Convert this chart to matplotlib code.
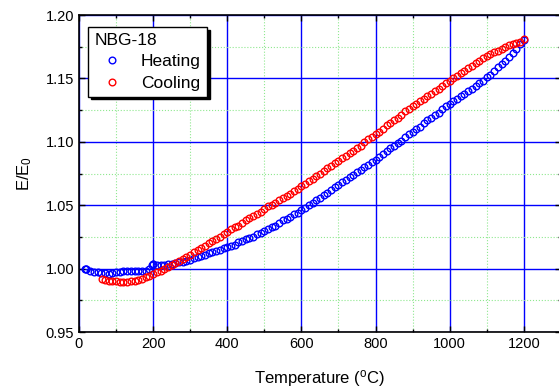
import matplotlib
matplotlib.use("Agg")
import matplotlib.pyplot as plt
from matplotlib.ticker import MultipleLocator, FormatStrFormatter

plt.rcParams['font.family'] = ['Liberation Sans', 'DejaVu Sans']
plt.rcParams['mathtext.fontset'] = 'custom'
plt.rcParams['mathtext.rm'] = 'Liberation Sans'

# heating run (temperature in C, E/E0)
heat_t = [15, 18, 20, 30, 40, 50, 60, 70, 80, 90, 100, 110, 120, 130, 140, 150,
          160, 170, 180, 190, 197, 199, 201, 210, 220, 230, 240, 250, 260, 270,
          280, 290, 300, 310, 320, 330, 340, 350, 360, 370, 380, 390, 400, 410,
          420, 430, 440, 450, 460, 470, 480, 490, 500, 510, 520, 530, 540, 550,
          560, 570, 580, 590, 600, 610, 620, 630, 640, 650, 660, 670, 680, 690,
          700, 710, 720, 730, 740, 750, 760, 770, 780, 790, 800, 810, 820, 830,
          840, 850, 860, 870, 880, 890, 900, 910, 920, 930, 940, 950, 960, 970,
          980, 990, 1000, 1010, 1020, 1030, 1040, 1050, 1060, 1070, 1080, 1090,
          1100, 1110, 1120, 1130, 1140, 1150, 1160, 1170, 1180, 1190, 1200]
heat_e = [1.000, 1.000, 0.9995, 0.998, 0.9975, 0.997, 0.9965, 0.9965, 0.996,
          0.9965, 0.997, 0.9975, 0.998, 0.998, 0.998, 0.998, 0.998, 0.998,
          0.9985, 1.000, 1.003, 1.004, 1.0035, 1.0025, 1.0025, 1.003, 1.0035,
          1.004, 1.0045, 1.005, 1.0055, 1.006, 1.007, 1.008, 1.009, 1.010,
          1.011, 1.012, 1.013, 1.014, 1.015, 1.016, 1.017, 1.018, 1.019, 1.021,
          1.022, 1.023, 1.024, 1.025, 1.027, 1.028, 1.030, 1.031, 1.033, 1.034,
          1.036, 1.038, 1.039, 1.041, 1.043, 1.044, 1.046, 1.048, 1.050, 1.052,
          1.054, 1.056, 1.058, 1.060, 1.062, 1.064, 1.066, 1.068, 1.070, 1.072,
          1.074, 1.076, 1.078, 1.080, 1.082, 1.084, 1.086, 1.088, 1.090, 1.093,
          1.095, 1.097, 1.099, 1.101, 1.104, 1.106, 1.108, 1.110, 1.112, 1.115,
          1.117, 1.119, 1.121, 1.123, 1.126, 1.128, 1.130, 1.132, 1.134, 1.136,
          1.138, 1.140, 1.142, 1.144, 1.146, 1.148, 1.151, 1.153, 1.156, 1.159,
          1.161, 1.164, 1.167, 1.170, 1.173, 1.177, 1.180]

# cooling run
cool_t = [63, 70, 80, 90, 100, 110, 120, 130, 140, 150, 160, 170, 180, 190,
          200, 210, 220, 230, 240, 250, 260, 270, 280, 290, 300, 310, 320, 330,
          340, 350, 360, 370, 380, 390, 400, 410, 420, 430, 440, 450, 460, 470,
          480, 490, 500, 510, 520, 530, 540, 550, 560, 570, 580, 590, 600, 610,
          620, 630, 640, 650, 660, 670, 680, 690, 700, 710, 720, 730, 740, 750,
          760, 770, 780, 790, 800, 810, 820, 830, 840, 850, 860, 870, 880, 890,
          900, 910, 920, 930, 940, 950, 960, 970, 980, 990, 1000, 1010, 1020,
          1030, 1040, 1050, 1060, 1070, 1080, 1090, 1100, 1110, 1120, 1130,
          1140, 1150, 1160, 1170, 1180, 1190, 1200]
cool_e = [0.992, 0.991, 0.9905, 0.990, 0.990, 0.9895, 0.9895, 0.9898, 0.990,
          0.9905, 0.991, 0.992, 0.993, 0.994, 0.9955, 0.997, 0.9985, 1.000,
          1.0015, 1.003, 1.0045, 1.006, 1.0078, 1.0094, 1.011, 1.013, 1.0145,
          1.016, 1.018, 1.020, 1.022, 1.0235, 1.025, 1.027, 1.029, 1.031,
          1.0325, 1.034, 1.036, 1.038, 1.040, 1.0415, 1.043, 1.045, 1.047,
          1.049, 1.0505, 1.052, 1.054, 1.056, 1.057, 1.059, 1.061, 1.063, 1.065,
          1.067, 1.069, 1.071, 1.073, 1.075, 1.077, 1.079, 1.081, 1.083, 1.085,
          1.087, 1.089, 1.091, 1.093, 1.095, 1.097, 1.100, 1.102, 1.104, 1.106,
          1.108, 1.110, 1.113, 1.115, 1.117, 1.119, 1.121, 1.124, 1.126, 1.128,
          1.130, 1.132, 1.134, 1.136, 1.138, 1.140, 1.142, 1.144, 1.146, 1.148,
          1.150, 1.152, 1.154, 1.156, 1.158, 1.160, 1.162, 1.164, 1.166, 1.168,
          1.169, 1.171, 1.172, 1.173, 1.175, 1.176, 1.177, 1.178, 1.179, 1.181]

fig = plt.figure(figsize=(5.59, 3.89), dpi=100)
ax = fig.add_axes([0.1413, 0.1465, 0.862, 0.8149])

ax.plot(heat_t, heat_e, 'o', mfc='none', mec='blue', ms=4.8, mew=1.0,
        label='Heating', zorder=3)
ax.plot(cool_t, cool_e, 'o', mfc='none', mec='red', ms=4.8, mew=1.0,
        label='Cooling', zorder=3)

ax.set_xlim(0, 1300)
ax.set_ylim(0.95, 1.20)
ax.xaxis.set_major_locator(MultipleLocator(200))
ax.xaxis.set_minor_locator(MultipleLocator(100))
ax.yaxis.set_major_locator(MultipleLocator(0.05))
ax.yaxis.set_minor_locator(MultipleLocator(0.025))
ax.yaxis.set_major_formatter(FormatStrFormatter('%.2f'))

ax.grid(which='major', color='blue', lw=1.0, zorder=1)
ax.grid(which='minor', color='#8fe88f', lw=0.8, ls=':', zorder=1)
ax.set_axisbelow(True)

ax.tick_params(which='both', direction='in', top=True, right=True,
               labelsize=10.5, width=1)
ax.tick_params(which='major', length=4)
ax.tick_params(which='minor', length=2)
for s in ax.spines.values():
    s.set_linewidth(1.2)

ax.set_xlabel(r'Temperature ($\mathregular{^o}$C)', fontsize=12, labelpad=12)
ax.set_ylabel(r'E/E$\mathregular{_0}$', fontsize=12, labelpad=8)

leg = ax.legend(title='NBG-18', loc='upper left', bbox_to_anchor=(0.019, 0.962),
                borderaxespad=0, fontsize=12.5, title_fontsize=12.5,
                fancybox=False, framealpha=1, edgecolor='black',
                handletextpad=0.7, borderpad=0.35, labelspacing=0.35,
                handlelength=2.0, markerscale=1.0,
                shadow={'color': 'black', 'alpha': 1})
leg._legend_box.align = 'left'
leg.get_frame().set_linewidth(1.0)

fig.savefig('out.png', dpi=100)
